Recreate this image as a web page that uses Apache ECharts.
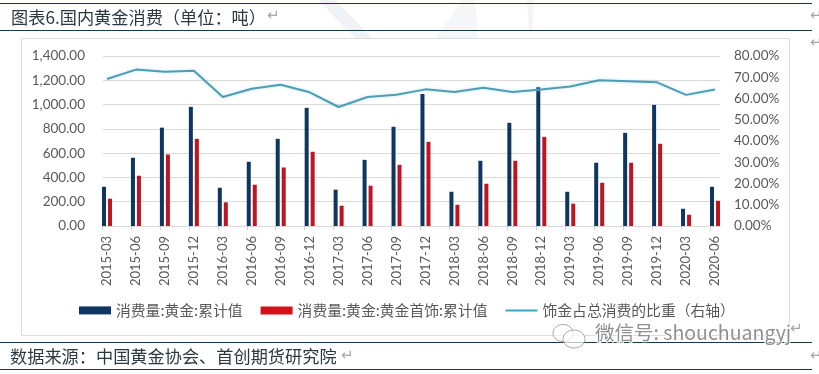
<!DOCTYPE html>
<html><head><meta charset="utf-8">
<style>html,body{margin:0;padding:0;background:#fff}#c{width:819px;height:374px}</style>
<script src="https://cdn.jsdelivr.net/npm/echarts@6/dist/echarts.min.js"></script>
</head><body><div id="c"></div>
<script>
const categories = ['2015-03','2015-06','2015-09','2015-12','2016-03','2016-06','2016-09','2016-12','2017-03','2017-06','2017-09','2017-12','2018-03','2018-06','2018-09','2018-12','2019-03','2019-06','2019-09','2019-12','2020-03','2020-06'];
const goldTotal = [323,562,810,981,315,529,718,973,299,545,817,1088,282,537,850,1143,282,521,767,997,142,323];
const goldJewelry = [225,414,589,718,195,340,482,611,167,332,504,693,175,348,537,734,184,356,521,677,93,208];
const jewelryShare = [69.2,73.6,72.6,73.1,60.7,64.6,66.5,62.9,56.0,60.7,61.8,64.3,63.1,65.1,63.1,64.2,65.6,68.6,68.1,67.6,61.7,64.2];
const seriesNames = ['消费量:黄金:累计值','消费量:黄金:黄金首饰:累计值','饰金占总消费的比重（右轴）'];
const titleText = '图表6.国内黄金消费（单位：吨）';
const sourceText = '数据来源：中国黄金协会、首创期货研究院';
const watermarkText = '微信号: shouchuangyj';

const LBL = '#595959', SER = '"Noto Sans CJK SC"', NAVY = '#16384a';
const rule = (x1,y1,x2,y2,color,w)=>({type:'line',silent:true,shape:{x1,y1,x2,y2},style:{stroke:color,lineWidth:w||1}});
const txt = (x,y,text,font,fill,extra)=>({type:'text',silent:true,x,y,style:Object.assign({text,font,fill,textVerticalAlign:'middle'},extra||{})});
const ret = (x,y)=>txt(x,y,'↵','15px "DejaVu Sans"','#a6a6a6');

const chart = echarts.init(document.getElementById('c'),null,{renderer:'canvas'});
chart.setOption({
  animation:false,
  backgroundColor:'#fff',
  grid:[
    {left:103,width:617,top:56,height:170},
    {left:107,width:608,top:56,height:170},
    {left:102,width:608,top:56,height:170}
  ],
  legend:{
    left:74,top:298,itemWidth:32,itemHeight:8,itemGap:18,
    textStyle:{color:LBL,fontSize:14.8,fontFamily:SER},
    data:[
      {name:seriesNames[0],icon:'rect'},
      {name:seriesNames[1],icon:'rect',itemStyle:{color:'#d2121a'}},
      {name:seriesNames[2],icon:'path://M0,0L0,0M0,3H32V5H0ZM32,8L32,8'}
    ]
  },
  xAxis:[
    {type:'category',gridIndex:0,data:categories,axisLine:{lineStyle:{color:'#d9d9d9'}},axisTick:{show:false},axisLabel:{show:false}},
    {type:'category',gridIndex:1,data:categories,boundaryGap:false,axisLine:{show:false},axisTick:{show:false},
      axisLabel:{interval:0,rotate:90,margin:10,color:LBL,fontSize:13,fontFamily:'Lato'}},
    {type:'category',gridIndex:2,data:categories,boundaryGap:false,axisLine:{show:false},
      axisTick:{alignWithLabel:true,length:4,interval:0,lineStyle:{color:'#d0d0d0'}},axisLabel:{show:false}}
  ],
  yAxis:[
    {type:'value',gridIndex:0,min:0,max:1400,interval:200,axisLine:{show:false},axisTick:{show:false},
      splitLine:{lineStyle:{color:'#d9d9d9'}},
      axisLabel:{margin:18,color:LBL,fontSize:13.5,fontFamily:'Lato',formatter:v=>v.toLocaleString('en-US',{minimumFractionDigits:2,maximumFractionDigits:2})}},
    {type:'value',gridIndex:0,position:'right',min:0,max:80,interval:10,axisLine:{show:false},axisTick:{show:false},splitLine:{show:false},
      axisLabel:{margin:14,color:LBL,fontSize:13.5,fontFamily:'Lato',formatter:v=>v.toFixed(2)+'%'}},
    {type:'value',gridIndex:1,min:0,max:1400,show:false},
    {type:'value',gridIndex:1,position:'right',min:0,max:80,show:false},
    {type:'value',gridIndex:2,min:0,max:1400,show:false}
  ],
  series:[
    {name:seriesNames[0],type:'bar',xAxisIndex:1,yAxisIndex:2,data:goldTotal,barWidth:4,barGap:'50%',clip:false,itemStyle:{color:'#0f3660'}},
    {name:seriesNames[1],type:'bar',xAxisIndex:1,yAxisIndex:2,data:goldJewelry,barWidth:4,barGap:'50%',clip:false,itemStyle:{color:'#bd1620'}},
    {name:seriesNames[2],type:'line',xAxisIndex:1,yAxisIndex:3,data:jewelryShare,symbol:'none',
      lineStyle:{color:'#4f9db5',width:2,shadowColor:'rgba(120,210,235,0.5)',shadowBlur:3},itemStyle:{color:'#3fa6c4'}},
    {type:'line',xAxisIndex:2,yAxisIndex:4,data:[],silent:true}
  ],
  graphic:[
    {type:'polygon',silent:true,z:-1,shape:{points:[[318,0],[335,0],[372,38],[355,38]]},style:{fill:'#f0f3f5'}},
    {type:'polygon',silent:true,z:-1,shape:{points:[[462,0],[475,0],[478,38],[436,38]]},style:{fill:'#f5f6f7'}},
    {type:'polygon',silent:true,z:-1,shape:{points:[[527,0],[534,0],[532,30],[529,30]]},style:{fill:'#f3f4f5'}},
    {type:'rect',silent:true,z:-1,shape:{x:21.5,y:38.5,width:768,height:297},style:{fill:'none',stroke:'#dcdcdc',lineWidth:1}},
    rule(0,3.5,812,3.5,NAVY), rule(0,30.5,812,30.5,NAVY),
    rule(0,342.5,812,342.5,NAVY), rule(0,369.5,812,369.5,NAVY),
    txt(11,17,titleText,'17.2px '+SER,'#2b3a42'),
    txt(10,356,sourceText,'17.2px '+SER,'#2b3a42'),
    ret(267,16), ret(810,16), ret(810,43), ret(341,356), ret(810,356),
    ret(790,329),
    {type:'ellipse',silent:true,shape:{cx:563,cy:333,rx:10,ry:8.5},style:{fill:'rgba(255,255,255,.6)',stroke:'#a8a8a8',lineWidth:1}},
    {type:'ellipse',silent:true,shape:{cx:574,cy:339,rx:11,ry:9},style:{fill:'rgba(255,255,255,.7)',stroke:'#a8a8a8',lineWidth:1}},
    txt(595,333,watermarkText,'19.5px "Noto Sans CJK SC"','#8f8f8f',{stroke:'#ffffff',lineWidth:2})
  ]
});
</script></body></html>
